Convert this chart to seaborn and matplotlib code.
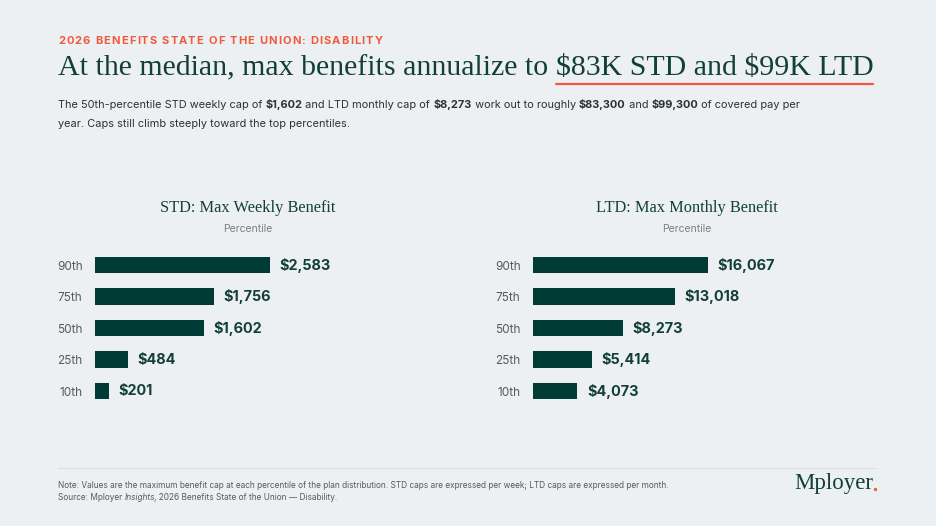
import pandas as pd
import seaborn as sns
import matplotlib.pyplot as plt

# Datos
percentiles = ["90th", "75th", "50th", "25th", "10th"]
std_weekly = [2583, 1756, 1602, 484, 201]
ltd_monthly = [16067, 13018, 8273, 5414, 4073]

BG = "#edf0f2"
GREEN = "#003b36"
HEAD = "#123f38"
ORANGE = "#f05a3c"
GRAY = "#555b5e"
SANS = ["Inter", "DejaVu Sans"]
SERIF = ["Liberation Serif", "DejaVu Serif"]

sns.set_theme(style="white")
plt.rcParams["font.family"] = SANS

W, H = 936, 526
fig = plt.figure(figsize=(W / 100, H / 100), dpi=100)
fig.patch.set_facecolor(BG)
renderer = fig.canvas.get_renderer()


def fx(px):
    return px / W


def fy(py):
    return 1 - py / H


def text(x, y, s, **kw):
    """Texto en coordenadas de píxel (x desde la izquierda, y desde arriba)."""
    kw.setdefault("va", "center")
    return fig.text(fx(x), fy(y), s, parse_math=False, **kw)


def right_edge(t):
    return t.get_window_extent(renderer).x1


def rich_line(x, y, parts, size, color):
    """Escribe segmentos de texto uno tras otro en la misma línea."""
    for txt, weight in parts:
        t = text(x, y, txt, fontsize=size, weight=weight, color=color)
        x = right_edge(t)
    return x


def tracked(x, y, s, tracking, **kw):
    """Texto con espaciado entre letras."""
    for ch in s:
        t = text(x, y, ch, **kw)
        x = right_edge(t) + tracking
    return x


# Cabecera
tracked(58, 41, "2026 BENEFITS STATE OF THE UNION: DISABILITY", 1.15,
        fontsize=8, weight="bold", color=ORANGE)

head_a = "At the median, max benefits annualize to "
head_b = "$83K STD and $99K LTD"
probe = text(0, -100, head_a + head_b, fontsize=24, family=SERIF)
pw = probe.get_window_extent(renderer).width
probe.remove()
hsize = 24 * 818 / pw
t1 = text(58, 68, head_a, fontsize=hsize, family=SERIF, color=HEAD)
t2 = text(right_edge(t1), 68, head_b, fontsize=hsize, family=SERIF, color=HEAD)
bb2 = t2.get_window_extent(renderer)
fig.add_artist(plt.Line2D([bb2.x0 / W, bb2.x1 / W], [fy(84), fy(84)],
                          color=ORANGE, lw=1.6, transform=fig.transFigure))

rich_line(58, 105, [("The 50th-percentile STD weekly cap of ", "normal"),
                    ("$1,602", "bold"),
                    (" and LTD monthly cap of ", "normal"),
                    ("$8,273", "bold"),
                    (" work out to roughly ", "normal"),
                    ("$83,300", "bold"),
                    (" and ", "normal"),
                    ("$99,300", "bold"),
                    (" of covered pay per", "normal")], 7.9, "#2b3235")
rich_line(58, 124, [("year. Caps still climb steeply toward the top percentiles.", "normal")],
          7.9, "#2b3235")


# Gráficos de barras
def bar_panel(left_px, values, title, title_x):
    bar_px = 175
    ax_w = 300
    ax = fig.add_axes([fx(left_px), fy(406.75), fx(ax_w), 157.5 / H])
    df = pd.DataFrame({"percentile": percentiles, "value": values})
    sns.barplot(data=df, x="value", y="percentile", ax=ax, color=GREEN,
                saturation=1, width=0.52, linewidth=0)
    ax.set_xlim(0, max(values) * ax_w / bar_px)
    ax.set_ylim(4.5, -0.5)
    ax.set_facecolor("none")
    for s in ax.spines.values():
        s.set_visible(False)
    ax.set_xticks([])
    ax.set_xlabel("")
    ax.set_ylabel("")
    ax.tick_params(axis="y", length=0, pad=9, labelsize=8.5, labelcolor=GRAY)
    for lab in ax.bar_label(ax.containers[0], labels=[f"${v:,}" for v in values],
                            padding=7, fontsize=10.4, weight="bold", color=HEAD):
        lab.set_parse_math(False)
    text(title_x, 208, title, fontsize=11.8, family=SERIF, color=HEAD, ha="center")
    text(title_x, 229, "Percentile", fontsize=7.5, color="#7a8184", ha="center")
    return ax


bar_panel(95, std_weekly, "STD: Max Weekly Benefit", 248)
bar_panel(533, ltd_monthly, "LTD: Max Monthly Benefit", 687)

# Pie de página
fig.add_artist(plt.Line2D([fx(58), fx(876)], [fy(468), fy(468)],
                          color="#d9dee1", lw=0.8, transform=fig.transFigure))
text(58, 485,
     "Note: Values are the maximum benefit cap at each percentile of the plan distribution. "
     "STD caps are expressed per week; LTD caps are expressed per month.",
     fontsize=5.95, color=GRAY)
src = text(58, 498, "Source: Mployer ", fontsize=5.95, color=GRAY)
ti = text(right_edge(src), 498, "Insights", fontsize=5.95, color=GRAY, style="italic")
text(right_edge(ti) - 1, 498, ", 2026 Benefits State of the Union \u2014 Disability.",
     fontsize=5.95, color=GRAY)

logo = text(794, 483, "Mployer", fontsize=16.5, family=SERIF, color=HEAD)
dot_x = right_edge(logo) + 1.5
fig.add_artist(plt.Line2D([fx(dot_x)], [fy(488.5)], marker="o", markersize=1.4,
                          color=ORANGE, linestyle="none", transform=fig.transFigure))

fig.savefig("out.png", dpi=100, facecolor=BG)
